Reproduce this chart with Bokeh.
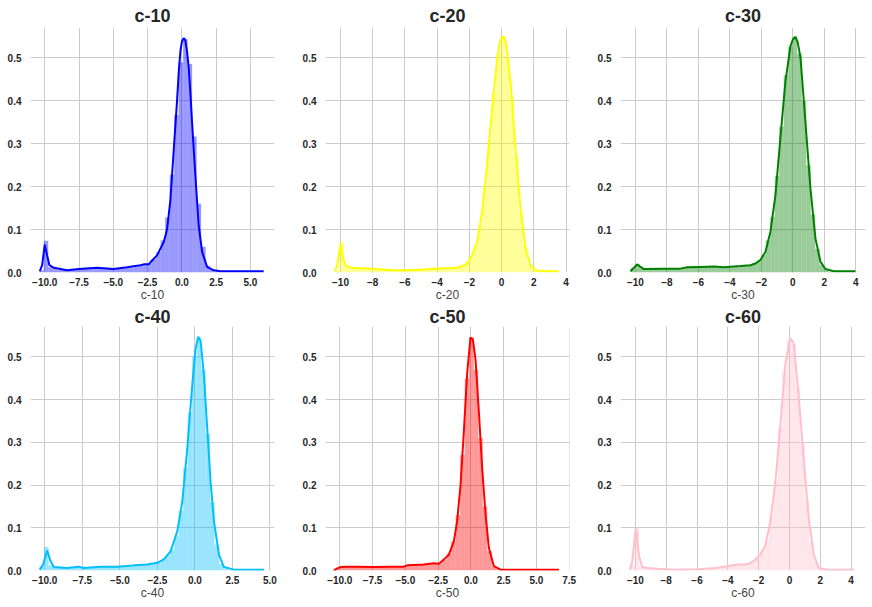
from bokeh.plotting import figure
from bokeh.layouts import column, row
from bokeh.models import FixedTicker, Range1d
from bokeh.embed import file_html
from bokeh.resources import INLINE

# ---------------- data ----------------
names = ["c-10", "c-20", "c-30", "c-40", "c-50", "c-60"]
colors = ["#0000FF", "#FFFF00", "#008000", "#00BFFF", "#FF0000", "#FFC0CB"]

# histogram: [min, max] of the binned data, 50 equal bins, densities
c10_hist_range = [-10.4, 6.0]
c10_hist = [0.005, 0.074, 0.012, 0.008, 0.006, 0.006, 0.006, 0.007, 0.008, 0.008,
            0.009, 0.009, 0.011, 0.010, 0.009, 0.008, 0.008, 0.009, 0.010, 0.012,
            0.011, 0.013, 0.017, 0.019, 0.021, 0.031, 0.047, 0.075, 0.128, 0.228,
            0.367, 0.490, 0.545, 0.486, 0.317, 0.160, 0.060, 0.016, 0.006, 0.003,
            0.002, 0.001, 0.001, 0.001, 0.001, 0.001, 0.001, 0.001, 0.001, 0.001]
c10_kde_x = [-10.36, -10.19, -10.0, -9.83, -9.66, -9.34, -8.37, -7.52, -6.18, -4.97,
             -4.0, -3.02, -2.78, -2.41, -2.17, -1.81, -1.32, -1.08, -0.83, -0.59,
             -0.35, -0.22, -0.10, 0.0, 0.09, 0.17, 0.26, 0.38, 0.50, 0.62, 0.75,
             0.87, 0.99, 1.23, 1.48, 1.84, 2.33, 2.81, 5.97]
c10_kde_y = [0.003, 0.017, 0.065, 0.040, 0.017, 0.011, 0.005, 0.008, 0.011, 0.008,
             0.012, 0.017, 0.019, 0.019, 0.028, 0.040, 0.071, 0.100, 0.170, 0.286,
             0.400, 0.470, 0.517, 0.537, 0.544, 0.546, 0.540, 0.515, 0.478, 0.420, 0.348,
             0.285, 0.225, 0.109, 0.048, 0.013, 0.005, 0.003, 0.003]

c20_hist_range = [-10.35, 3.55]
c20_hist = [0.006, 0.073, 0.015, 0.010, 0.010, 0.009, 0.009, 0.010, 0.008, 0.007,
            0.007, 0.006, 0.006, 0.006, 0.005, 0.006, 0.005, 0.005, 0.006, 0.007,
            0.008, 0.009, 0.010, 0.010, 0.011, 0.011, 0.011, 0.012, 0.015, 0.022,
            0.038, 0.062, 0.110, 0.200, 0.310, 0.420, 0.510, 0.550, 0.500, 0.410,
            0.270, 0.140, 0.060, 0.020, 0.007, 0.003, 0.002, 0.001, 0.001, 0.001]
c20_kde_x = [-10.35, -10.2, -10.0, -9.83, -9.69, -9.38, -8.14, -6.9, -5.86, -4.83,
             -4.21, -2.76, -2.45, -2.14, -1.83, -1.52, -1.21, -0.90, -0.59, -0.28,
             -0.12, 0.0, 0.12, 0.24, 0.55, 0.86, 1.17, 1.48, 1.79, 2.1, 2.61, 3.54]
c20_kde_y = [0.003, 0.017, 0.065, 0.033, 0.017, 0.011, 0.009, 0.006, 0.005, 0.007,
             0.009, 0.011, 0.015, 0.021, 0.040, 0.071, 0.141, 0.250, 0.382, 0.498,
             0.535, 0.549, 0.549, 0.541, 0.444, 0.289, 0.149, 0.056, 0.017, 0.005, 0.003, 0.003]

c30_hist_range = [-10.3, 4.0]
c30_hist = [0.010, 0.020, 0.010, 0.008, 0.008, 0.009, 0.009, 0.008, 0.008, 0.009,
            0.009, 0.010, 0.011, 0.012, 0.012, 0.012, 0.013, 0.013, 0.014, 0.012,
            0.012, 0.013, 0.012, 0.014, 0.015, 0.016, 0.018, 0.022, 0.028, 0.040,
            0.075, 0.130, 0.225, 0.340, 0.460, 0.527, 0.550, 0.510, 0.400, 0.250,
            0.135, 0.055, 0.018, 0.005, 0.002, 0.001, 0.001, 0.001, 0.001, 0.001]
c30_kde_x = [-10.32, -10.1, -9.89, -9.68, -9.47, -8.2, -7.14, -6.72, -5.87, -5.02,
             -4.39, -3.33, -2.69, -2.37, -2.06, -1.74, -1.42, -1.1, -0.79, -0.47,
             -0.15, 0.0, 0.17, 0.32, 0.49, 0.8, 1.12, 1.44, 1.76, 2.07, 2.6, 3.98]
c30_kde_y = [0.003, 0.011, 0.019, 0.013, 0.008, 0.009, 0.009, 0.012, 0.013, 0.014,
             0.012, 0.015, 0.017, 0.021, 0.029, 0.048, 0.095, 0.181, 0.313, 0.445,
             0.527, 0.543, 0.549, 0.535, 0.500, 0.352, 0.196, 0.079, 0.025, 0.008, 0.003, 0.003]

c40_hist_range = [-10.35, 4.6]
c40_hist = [0.010, 0.055, 0.012, 0.007, 0.006, 0.006, 0.007, 0.008, 0.008, 0.007,
            0.007, 0.008, 0.008, 0.009, 0.008, 0.009, 0.009, 0.009, 0.010, 0.011,
            0.012, 0.013, 0.013, 0.014, 0.015, 0.017, 0.019, 0.025, 0.035, 0.050,
            0.080, 0.140, 0.240, 0.370, 0.500, 0.545, 0.470, 0.320, 0.160, 0.060,
            0.015, 0.004, 0.002, 0.001, 0.001, 0.001, 0.001, 0.001, 0.001, 0.001]
c40_kde_x = [-10.33, -10.11, -9.84, -9.62, -9.4, -8.51, -7.73, -7.4, -6.29, -5.18,
             -4.07, -3.18, -2.51, -2.07, -1.62, -1.18, -0.84, -0.51, -0.18, 0.04,
             0.22, 0.38, 0.6, 0.82, 1.04, 1.27, 1.6, 1.93, 2.6, 4.6]
c40_kde_y = [0.002, 0.014, 0.047, 0.022, 0.008, 0.006, 0.009, 0.006, 0.009, 0.009,
             0.012, 0.014, 0.018, 0.026, 0.045, 0.091, 0.161, 0.285, 0.433, 0.518,
             0.547, 0.537, 0.456, 0.332, 0.208, 0.115, 0.037, 0.008, 0.002, 0.002]

c50_hist_range = [-10.45, 6.75]
c50_hist = [0.004, 0.008, 0.009, 0.009, 0.010, 0.009, 0.009, 0.009, 0.009, 0.009,
            0.009, 0.009, 0.009, 0.009, 0.010, 0.011, 0.012, 0.013, 0.014, 0.014,
            0.015, 0.016, 0.017, 0.018, 0.026, 0.040, 0.068, 0.130, 0.270, 0.450,
            0.545, 0.470, 0.310, 0.150, 0.045, 0.010, 0.003, 0.002, 0.001, 0.001,
            0.001, 0.001, 0.001, 0.001, 0.001, 0.001, 0.001, 0.001, 0.001, 0.001]
c50_kde_x = [-10.46, -10.2, -9.95, -9.44, -8.68, -7.41, -6.13, -5.12, -4.86, -3.59,
             -2.83, -2.44, -2.06, -1.68, -1.3, -1.05, -0.79, -0.54, -0.28, -0.03,
             0.15, 0.35, 0.61, 0.86, 1.12, 1.37, 1.75, 2.26, 6.71]
c50_kde_y = [0.0, 0.005, 0.008, 0.009, 0.009, 0.008, 0.009, 0.009, 0.012, 0.014,
             0.017, 0.016, 0.026, 0.037, 0.068, 0.115, 0.200, 0.324, 0.464, 0.545,
             0.541, 0.494, 0.370, 0.239, 0.130, 0.053, 0.010, 0.002, 0.002]

c60_hist_range = [-10.35, 4.2]
c60_hist = [0.012, 0.100, 0.010, 0.009, 0.007, 0.006, 0.005, 0.004, 0.004, 0.003,
            0.003, 0.003, 0.003, 0.003, 0.004, 0.004, 0.005, 0.006, 0.006, 0.008,
            0.009, 0.011, 0.012, 0.014, 0.015, 0.015, 0.017, 0.022, 0.030, 0.045,
            0.070, 0.125, 0.210, 0.335, 0.470, 0.540, 0.530, 0.430, 0.300, 0.165,
            0.065, 0.020, 0.006, 0.002, 0.001, 0.001, 0.001, 0.001, 0.001, 0.001]
c60_kde_x = [-10.37, -10.22, -10.0, -9.94, -9.78, -9.57, -9.24, -8.59, -7.51, -6.0,
             -4.91, -4.05, -3.4, -2.75, -2.32, -1.88, -1.56, -1.24, -0.91, -0.59,
             -0.26, 0.06, 0.28, 0.6, 0.93, 1.25, 1.58, 1.9, 2.45, 4.22]
c60_kde_y = [0.002, 0.018, 0.091, 0.095, 0.037, 0.008, 0.006, 0.004, 0.002, 0.003,
             0.005, 0.010, 0.014, 0.014, 0.022, 0.037, 0.060, 0.114, 0.207, 0.338,
             0.485, 0.544, 0.531, 0.407, 0.261, 0.122, 0.037, 0.006, 0.002, 0.002]

# tick values and labels
ticks_25 = [-10.0, -7.5, -5.0, -2.5, 0.0, 2.5, 5.0]
labels_25 = ["\u221210.0", "\u22127.5", "\u22125.0", "\u22122.5", "0.0", "2.5", "5.0"]
ticks_25b = [-10.0, -7.5, -5.0, -2.5, 0.0, 2.5, 5.0, 7.5]
labels_25b = ["\u221210.0", "\u22127.5", "\u22125.0", "\u22122.5", "0.0", "2.5", "5.0", "7.5"]
ticks_2 = [-10, -8, -6, -4, -2, 0, 2, 4]
labels_2 = ["\u221210", "\u22128", "\u22126", "\u22124", "\u22122", "0", "2", "4"]
y_ticks = [0.0, 0.1, 0.2, 0.3, 0.4, 0.5]
y_labels = ["0.0", "0.1", "0.2", "0.3", "0.4", "0.5"]

# ---------------- layout / style ----------------
FONT = "Liberation Sans"
TXT = "#262626"
GRID = "#cccccc"
Y_END = 0.571

panels = [
    # name, color, hist_range, hist, kx, ky, ticks, labels, x_range, width, height, borders(l, r, t, b), title standoff
    (names[0], colors[0], c10_hist_range, c10_hist, c10_kde_x, c10_kde_y, ticks_25, labels_25, (-11.04, 6.76), 290, 304, (30, 16, 27, 30), 3),
    (names[1], colors[1], c20_hist_range, c20_hist, c20_kde_x, c20_kde_y, ticks_2, labels_2, (-10.93, 4.21), 290, 304, (35, 11, 27, 30), 3),
    (names[2], colors[2], c30_hist_range, c30_hist, c30_kde_x, c30_kde_y, ticks_2, labels_2, (-10.95, 4.62), 292, 304, (40, 7, 27, 30), 3),
    (names[3], colors[3], c40_hist_range, c40_hist, c40_kde_x, c40_kde_y, ticks_25, labels_25, (-10.95, 5.30), 290, 303, (30, 16, 18, 37), 0),
    (names[4], colors[4], c50_hist_range, c50_hist, c50_kde_x, c50_kde_y, ticks_25b, labels_25b, (-11.09, 7.52), 290, 303, (35, 11, 18, 37), 0),
    (names[5], colors[5], c60_hist_range, c60_hist, c60_kde_x, c60_kde_y, ticks_2, labels_2, (-10.97, 4.94), 292, 303, (40, 7, 18, 37), 0),
]


def make_panel(name, color, hrange, hist, kx, ky, ticks, labels, xr, w, h, borders, tstand):
    bl, br, bt, bb = borders
    p = figure(width=w, height=h, output_backend="svg", toolbar_location=None, tools="",
               x_range=Range1d(*xr), y_range=Range1d(0, Y_END),
               min_border_left=bl, min_border_right=br, min_border_top=bt, min_border_bottom=bb)
    p.outline_line_color = None
    p.background_fill_color = "white"
    p.border_fill_color = "white"

    p.title.text = name
    p.title.align = "center"
    p.title.text_font = FONT
    p.title.text_font_size = "18px"
    p.title.text_font_style = "bold"
    p.title.text_color = TXT
    p.title.standoff = tstand
    p.title.offset = 0

    n = len(hist)
    lo, hi = hrange
    edges = [lo + (hi - lo) * i / n for i in range(n + 1)]
    p.quad(left=edges[:-1], right=edges[1:], bottom=0, top=hist,
           fill_color=color, fill_alpha=0.4, line_color=None)
    p.line(kx, ky, line_color=color, line_width=2)

    xa = p.xaxis[0]
    xa.ticker = FixedTicker(ticks=ticks)
    xa.major_label_overrides = {t: l for t, l in zip(ticks, labels)}
    xa.axis_label = name
    xa.major_label_standoff = 5
    xa.axis_label_standoff = -1
    ya = p.yaxis[0]
    ya.ticker = FixedTicker(ticks=y_ticks)
    ya.major_label_overrides = {t: l for t, l in zip(y_ticks, y_labels)}
    ya.major_label_standoff = 9
    for ax in (xa, ya):
        ax.axis_line_color = None
        ax.major_tick_line_color = None
        ax.minor_tick_line_color = None
        ax.major_tick_out = 0
        ax.major_tick_in = 0
        ax.minor_tick_out = 0
        ax.minor_tick_in = 0
        ax.major_label_text_font = FONT
        ax.major_label_text_font_size = "10px"
        ax.major_label_text_font_style = "bold"
        ax.major_label_text_color = TXT
        ax.axis_label_text_font = FONT
        ax.axis_label_text_font_size = "12px"
        ax.axis_label_text_font_style = "normal"
        ax.axis_label_text_color = "#444444"

    p.xgrid.ticker = FixedTicker(ticks=ticks)
    p.ygrid.ticker = FixedTicker(ticks=y_ticks)
    for g in (p.xgrid, p.ygrid):
        g.grid_line_color = GRID
        g.grid_line_width = 1
    return p


figs = [make_panel(*cfg) for cfg in panels]
layout = column(row(*figs[:3], spacing=0), row(*figs[3:], spacing=0), spacing=0)

open("out.html", "w").write(file_html(layout, INLINE))
